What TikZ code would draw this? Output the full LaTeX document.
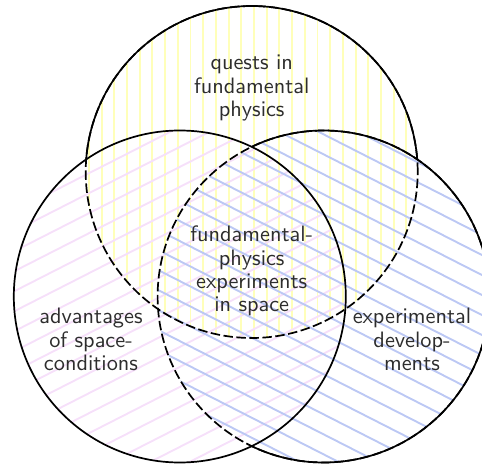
\documentclass[tikz,border=0pt]{standalone}
\definecolor{ylw}{RGB}{255,255,185}
\definecolor{pnk}{RGB}{246,224,250}
\definecolor{blu}{RGB}{188,200,244}
\definecolor{txt}{RGB}{45,45,45}
\tikzset{
  outline/.style={line width=1.7pt, black},
  dashedline/.style={outline, dash pattern=on 9.5pt off 3.5pt},
  hatch/.style={line width=1.9pt},
  label/.style={align=center, text=txt, font=\sffamily\fontsize{10}{10.45}\selectfont, inner sep=0pt, scale=2.23},
}
\begin{document}
\begin{tikzpicture}[x=1pt,y=1pt]
\useasboundingbox (0,0) rectangle (482,464);
\clip (0,0) rectangle (482,464);
\coordinate (T) at (251.7,292);
\coordinate (L) at (179.8,167.5);
\coordinate (R) at (323.6,167.5);
% hatching
\begin{scope}
  \clip (T) circle (166);
  \foreach \x in {0,12.7,...,500} \draw[hatch, ylw] (\x,0) -- (\x,464);
\end{scope}
\begin{scope}
  \clip (L) circle (166);
  \foreach \b in {-400,-380,...,500} \draw[hatch, pnk] (-50,\b) -- (550,\b+305.7);
\end{scope}
\begin{scope}
  \clip (R) circle (166);
  \foreach \b in {0,20,...,900} \draw[hatch, blu] (-50,\b) -- (550,\b-305.7);
\end{scope}
% top circle: dashed inside the others, solid outside
\draw[dashedline] (T) circle (166);
\begin{scope}[even odd rule]
  \clip (-20,-20) rectangle (520,500) (L) circle (166);
  \clip (-20,-20) rectangle (520,500) (R) circle (166);
  \draw[outline] (T) circle (166);
\end{scope}
% right circle: dashed inside the left one
\draw[dashedline] (R) circle (166);
\begin{scope}[even odd rule]
  \clip (-20,-20) rectangle (520,500) (L) circle (166);
  \draw[outline] (R) circle (166);
\end{scope}
% left circle: solid
\draw[outline] (L) circle (166);
% labels
\node[label] (quests) at (251.7,376) {quests in\\fundamental\\physics};
\node[label] (centre) at (251.7,193) {fundamental-\\physics\\experiments\\in space};
\node[label] (adv) at (91,124.5) {advantages\\of space-\\conditions};
\node[label] (exp) at (412,124.5) {experimental\\develop-\\ments};
\end{tikzpicture}
\end{document}
